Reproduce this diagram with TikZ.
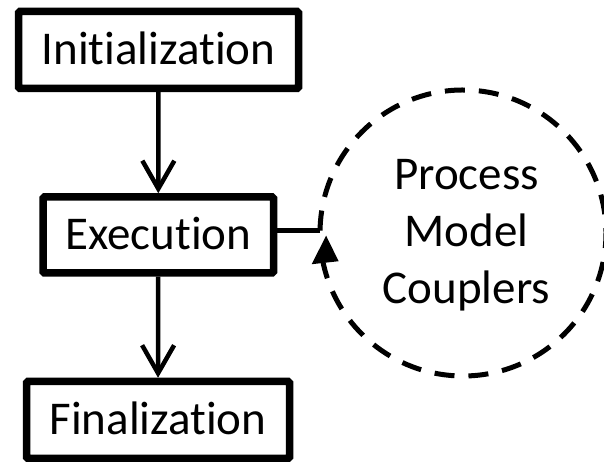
\documentclass[tikz,border=0pt]{standalone}
\usepackage{fontspec}
\setmainfont{Carlito}[Ligatures={NoCommon,NoRequired,NoContextual}, RawFeature={-liga;-clig;-dlig}]
\usetikzlibrary{arrows.meta,calc}
\begin{document}
\begin{tikzpicture}[x=1pt,y=1pt,
  stepbox/.style={draw, line width=7.5pt, rounded corners=1.5pt, inner sep=0pt,
    font=\fontsize{47}{57}\selectfont, text height=30pt, text depth=0pt},
  flow/.style={line width=4.5pt, -{Straight Barb[length=28pt,width=32pt]}},
  conn/.style={line width=5pt},
  cyc/.style={line width=5pt, dash pattern=on 20pt off 14pt},
  label/.style={align=center, font=\fontsize{47}{57}\selectfont, inner sep=0pt}]
\useasboundingbox (0,0) rectangle (604,462);
\node[stepbox, minimum width=280pt, minimum height=77pt] (init) at (158.5,412) {Initialization};
\node[stepbox, minimum width=230.5pt, minimum height=76pt] (exec) at (158.25,227) {Execution};
\node[stepbox, minimum width=263pt, minimum height=77pt] (fin) at (158,42) {Finalization};
\coordinate (c) at (463,229);
\coordinate (j) at ($(c)+(179:143)$);
\coordinate (tipbase) at ($(c)+(192:143)$);
\node[label] (pmc) at (466.5,227) {Process\\Model\\Couplers};
\draw[flow] (init) -- (exec);
\draw[flow] (exec) -- (fin);
\draw[conn] (exec.east |- j) -- (j);
\draw[cyc] (j) arc[start angle=179, end angle=-168, radius=143];
\fill ($(tipbase)+(3,27)$) -- ($(tipbase)+(-11.5,-1.5)$) -- ($(tipbase)+(15.5,1.5)$) -- cycle;
\end{tikzpicture}
\end{document}
